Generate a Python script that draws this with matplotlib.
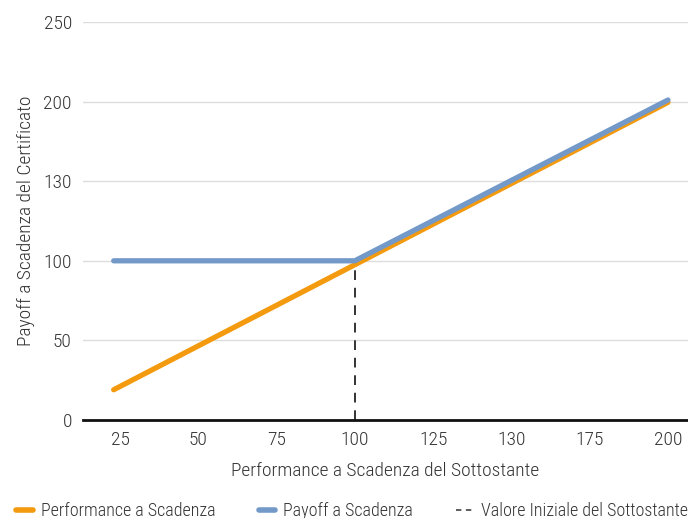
import matplotlib
matplotlib.use("Agg")
import matplotlib.pyplot as plt
from matplotlib.lines import Line2D

plt.rcParams['font.family'] = ['Roboto Condensed', 'Barlow Condensed', 'DejaVu Sans']
plt.rcParams['font.weight'] = 'light'

# data
perf_x = [23, 200]
perf_y = [19, 199.5]
payoff_x = [23, 100, 200]
payoff_y = [100, 100, 201]
strike_x = 100
strike_y = 100
x_ticks = [25, 50, 75, 100, 125, 150, 175, 200]
x_labels = ["25", "50", "75", "100", "125", "130", "175", "200"]
y_ticks = [0, 50, 100, 150, 200, 250]
y_labels = ["0", "50", "100", "130", "200", "250"]

orange = "#F39A0E"
blue = "#7399C9"
txtc = "#333333"

fig = plt.figure(figsize=(6.88, 5.18), dpi=100)
ax = fig.add_axes([83/688, 1-420/518, 1-83/688, (420-22)/518])

ax.set_xlim(13.2, 206.4)
ax.set_ylim(0, 250)
ax.set_yticks(y_ticks)
ax.set_yticklabels(y_labels)
ax.set_xticks(x_ticks)
ax.set_xticklabels(x_labels)
ax.tick_params(axis='both', length=0, labelsize=14, colors=txtc)
ax.tick_params(axis='y', pad=8)
ax.tick_params(axis='x', pad=8)
ax.grid(axis='y', color="#dddddd", linewidth=1)
ax.set_axisbelow(True)
for s in ['top', 'right', 'left']:
    ax.spines[s].set_visible(False)
ax.spines['bottom'].set_linewidth(2)
ax.spines['bottom'].set_color("#111111")

ax.plot([strike_x, strike_x], [0, strike_y], color="#333333", lw=1.4,
        dashes=(5, 4), zorder=2)
ax.plot(perf_x, perf_y, color=orange, lw=3.8, solid_capstyle='round', zorder=3)
ax.plot(payoff_x, payoff_y, color=blue, lw=3.8, solid_capstyle='round',
        solid_joinstyle='round', zorder=4)

ax.set_xlabel("Performance a Scadenza del Sottostante", fontsize=14,
              color=txtc, labelpad=9, fontweight='light')
ax.set_ylabel("Payoff a Scadenza del Certificato", fontsize=14,
              color=txtc, labelpad=6, fontweight='light')

handles = [
    Line2D([], [], color=orange, lw=4, solid_capstyle='round'),
    Line2D([], [], color=blue, lw=4, solid_capstyle='round'),
    Line2D([], [], color="#333333", lw=1.1, dashes=(3.5, 3)),
]
labels = ["Performance a Scadenza", "Payoff a Scadenza",
          "Valore Iniziale del Sottostante"]
fig.legend(handles, labels, loc='lower left', bbox_to_anchor=(0.0, -0.035),
           ncol=3, frameon=False, fontsize=13, handlelength=0.9,
           handletextpad=0.45, columnspacing=2.4, labelcolor=txtc)

fig.savefig("out.png", dpi=100)
